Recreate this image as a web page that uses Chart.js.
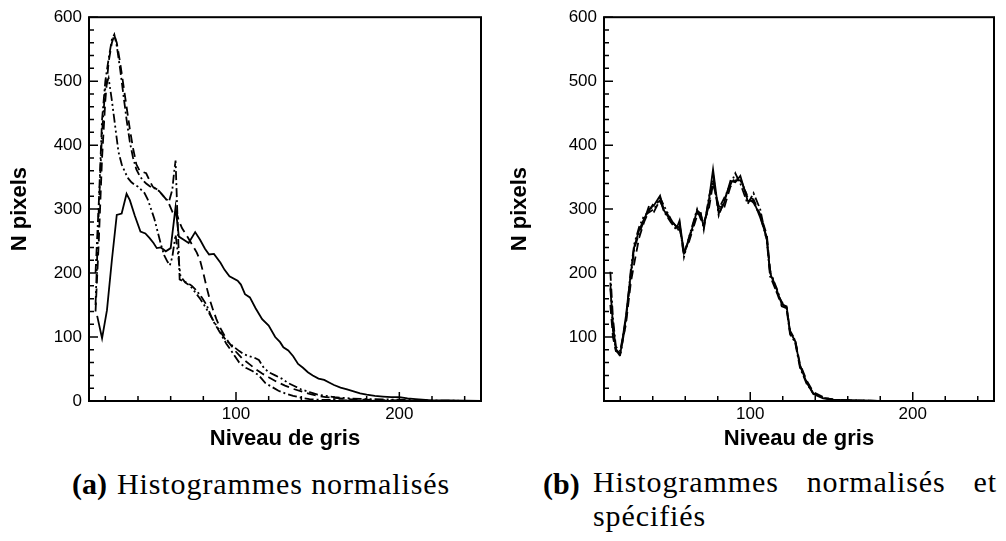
<!DOCTYPE html>
<html><head><meta charset="utf-8">
<script src="https://cdn.jsdelivr.net/npm/chart.js@4/dist/chart.umd.min.js"></script>
<style>
body{margin:0;background:#fff;width:1006px;height:541px;position:relative;overflow:hidden}
.c{position:absolute;top:0;height:460px}
.cap{position:absolute;font-family:"Liberation Serif",serif;font-size:30px;line-height:30px;color:#000;letter-spacing:0.9px}
.cap b{font-weight:bold;letter-spacing:0}
</style></head><body>
<div class="c" style="left:0;width:500px"><canvas id="ca"></canvas></div>
<div class="c" style="left:500px;width:506px"><canvas id="cb"></canvas></div>
<div class="cap" style="left:72px;top:469px;white-space:nowrap"><b>(a)</b></div>
<div class="cap" style="left:117px;top:469px;white-space:nowrap">Histogrammes normalisés</div>
<div class="cap" style="left:543px;top:469px;white-space:nowrap"><b>(b)</b></div>
<div class="cap" style="left:593px;width:404px;text-align:justify;line-height:34px;top:465px">Histogrammes normalisés et spécifiés</div>
<script>
// ---- Panel (a): normalized histograms ----
const aSolidX = [15,18,21,24,27,30,33,35,38,41.5,44.5,47,49.5,51.5,54,57,60,63,65,68,71,75,78,81,83.5,86.5,90.5,93,96,101,103,105.5,108.5,112,116,120,124,127,129,132,135,138,141,144,147,150.5,154,157,160,164,168,172,176,180,185,190,195,200,205,210,220,230,240,250];
const aSolidY = [133,98,142,220,291,293,324,314,290,265,262,255,247,239,240,234,239,303,257,252,247,264,252,238,229,230,216,205,195,188,182,167,162,145,128,118,100,92,84,79,70,58,52,45,40,35,33,29,25,21,18,15,12,10,8,7,6,6,4,3,1,1,0.5,0];

const aDashX = [14,16,18,20,22,24,25.5,27,29,31,33,35,37,39,41,43,45,47,49,51,53,55,57,59,61,63,65,67,70,73,76,78,80,82,84,86,88,90,93,96,100,104,108,112,116,120,125,130,135,140,145,150,155,160,170,180,190,200,215,230,250];
const aDashY = [140,250,380,470,530,560,572,560,530,495,460,425,395,370,360,358,356,345,335,332,328,322,316,308,296,300,282,270,258,245,232,220,200,178,158,142,128,116,102,90,77,66,58,50,43,37,30,24,19,15,11,8,6,5,3,2,1.5,1,0.5,0,0];

const aDotX = [14,16,18,20,22,24,25.5,27,29,31,33,35,37,39,41,43,45,47,49,51,53,55,57,59,61,62,63,64,65.5,68,70,73,76,79,82,86,90,94,98,102,106,110,114,118,122,126,130,135,140,145,150,160,170,180,200,220,250];
const aDotY = [200,310,440,500,535,565,573,555,520,480,440,405,380,362,352,345,340,336,333,332,328,322,316,312,330,355,376,300,190,187,185,180,172,162,150,125,108,90,75,60,52,47,40,28,22,16,12,8,5,3,2,1.5,1,0.5,0,0,0];

const aDot2X = [14,16,18,20,22,24,26,28,30,32,34,36,38,40,42,44,46,48,50,52,54,56,58,59.5,61,63,64.5,66,69,72,75,78,81,84,87,90,93,96,99,102,105,108,111,114,117,120,124,128,132,136,140,145,150,155,160,170,180,190,200,215,230,250];
const aDot2Y = [150,300,420,490,505,470,430,390,370,358,348,342,338,335,330,325,315,300,285,265,245,228,218,212,225,260,230,195,185,180,170,160,148,135,122,110,98,90,84,78,73,70,68,64,52,45,40,35,28,23,18,14,10,8,6,4,3,2.5,2,1,0.5,0];

// ---- Panel (b): normalized and specified histograms ----
const bX = [13.9,15.5,17.3,20,23.5,26.5,28.6,31.6,34.7,37.8,40.8,44.5,46.9,51,55,56.5,59.2,62.2,67.3,69.4,71.4,74.5,77.1,80.6,83.7,87.8,90.8,93.9,98.4,102,106.1,110.2,112.2,116.3,119.4,122.4,124.5,127.6,130.6,134.7,138.8,144.9,151,161,180,250];
const bSolidY = [176,120,81,73,133,200,241,267,285,300,306,321,298,282,272,282,231,251,298,293,272,313,362,293,308,344,342,352,313,313,287,256,200,174,151,148,107,94,55,29,11,4,2,1,0,0];
const bDashY = [150,100,78,75,120,185,215,255,280,298,310,312,300,285,270,275,228,255,295,290,280,300,340,305,300,335,345,345,320,315,292,260,205,170,148,145,110,96,58,32,14,6,2,1,0,0];
const bDotY = [202,130,85,78,128,195,238,262,282,306,296,315,296,280,266,270,236,248,290,296,268,318,345,300,316,338,356,340,308,325,300,250,195,170,155,143,104,92,52,27,12,5,2,1,0,0];
const bDot2Y = [185,110,80,70,125,205,245,272,290,295,300,318,305,285,268,278,225,255,300,285,276,305,355,290,312,340,348,348,318,310,290,252,202,176,152,146,108,95,56,30,12,5,2,1,0,0];

const xMajor = [100,200];
const xMinor = [20,40,60,80,100,120,140,160,180,200,220,240];
const yMajor = [0,100,200,300,400,500,600];
const yMinor = [];
for (let v = 0; v <= 600; v += 20) yMinor.push(v);

const AXIS_FONT = {family:'"Liberation Sans", Arial, sans-serif', size:17};
const TITLE_FONT = {family:'"Liberation Sans", Arial, sans-serif', size:22, weight:'bold'};

const STYLES = {
  solid: [],
  dash: [9,5],
  dot: [9,3,2,3],
  dot2: [9,3,2,3,2,3]
};

function pts(xs, ys){ return xs.map((x,i)=>({x:x, y:ys[i]})); }
function ds(xs, ys, style){
  return {data: pts(xs, ys), borderColor:'#000', borderWidth:1.8, borderDash:STYLES[style], pointRadius:0, tension:0, fill:false};
}

const frame = {
  id:'frame',
  afterDatasetsDraw(chart){
    const {ctx, chartArea:a, scales} = chart;
    const x = scales.x, y = scales.y;
    ctx.save();
    ctx.strokeStyle = '#000';
    ctx.lineWidth = 1.5;
    ctx.beginPath();
    for (const v of xMinor){
      const px = x.getPixelForValue(v);
      const L = xMajor.includes(v) ? 9 : 5;
      ctx.moveTo(px, a.bottom); ctx.lineTo(px, a.bottom - L);
    }
    for (const v of yMinor){
      const py = y.getPixelForValue(v);
      const L = yMajor.includes(v) ? 9 : 5;
      ctx.moveTo(a.left, py); ctx.lineTo(a.left + L, py);
    }
    ctx.stroke();
    ctx.lineWidth = 2;
    ctx.strokeRect(a.left, a.top, a.right - a.left, a.bottom - a.top);
    ctx.restore();
  }
};

function makeChart(id, datasets, yw, padR, padT, showZero){
  return new Chart(document.getElementById(id), {
    type:'line',
    data:{datasets: datasets},
    plugins:[frame],
    options:{
      responsive:true, maintainAspectRatio:false, animation:false,
      layout:{padding:{left:0, right:padR, top:padT, bottom:0}},
      plugins:{legend:{display:false}, tooltip:{enabled:false}},
      scales:{
        x:{type:'linear', min:10, max:250,
          grid:{display:false, drawTicks:false}, border:{display:false},
          afterBuildTicks: s => { s.ticks = xMajor.map(v=>({value:v})); },
          afterFit: s => { s.height = 59; },
          ticks:{color:'#000', font:AXIS_FONT, padding:3, maxRotation:0},
          title:{display:true, text:'Niveau de gris', color:'#000', font:TITLE_FONT, padding:{top:0,bottom:8}}
        },
        y:{type:'linear', min:0, max:600,
          grid:{display:false, drawTicks:false}, border:{display:false},
          afterBuildTicks: s => { s.ticks = yMajor.filter(v => showZero || v !== 0).map(v=>({value:v})); },
          afterFit: s => { s.width = yw; },
          ticks:{color:'#000', font:AXIS_FONT, padding:7},
          title:{display:true, text:'N pixels', color:'#000', font:TITLE_FONT, padding:{top:7,bottom:0}}
        }
      }
    }
  });
}

makeChart('ca', [
  ds(aSolidX, aSolidY, 'solid'),
  ds(aDashX, aDashY, 'dash'),
  ds(aDotX, aDotY, 'dot'),
  ds(aDot2X, aDot2Y, 'dot2')
], 89, 19, 14, true);

makeChart('cb', [
  ds(bX, bSolidY, 'solid'),
  ds(bX, bDashY, 'dash'),
  ds(bX, bDotY, 'dot'),
  ds(bX, bDot2Y, 'dot2')
], 104, 12, 15, false);
</script>
</body></html>
